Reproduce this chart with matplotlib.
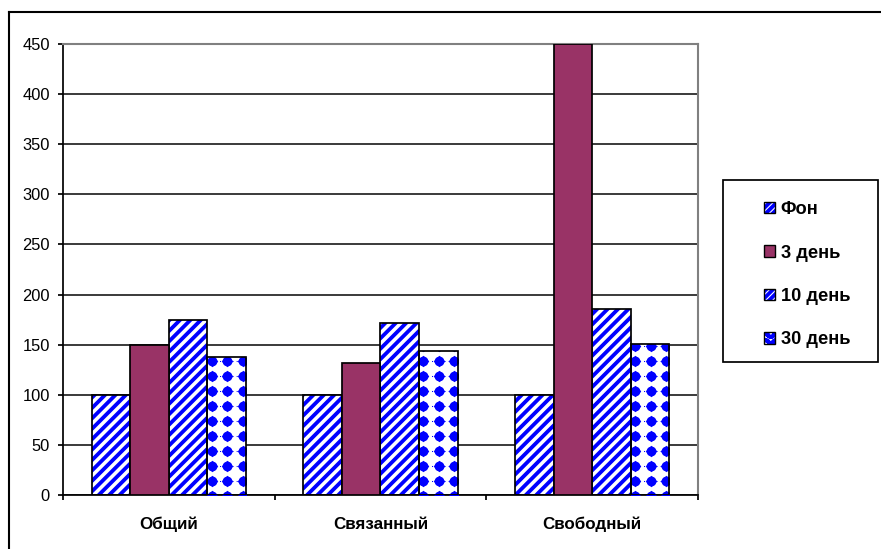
import numpy as np
import matplotlib
matplotlib.use("Agg")
import matplotlib.pyplot as plt
from matplotlib.patches import Rectangle, Patch
from matplotlib.lines import Line2D
from matplotlib.legend_handler import HandlerTuple

# ---- data ----
categories = ["Общий", "Связанный", "Свободный"]
series_names = ["Фон", "3 день", "10 день", "30 день"]
fon = [100, 100, 100]
day3 = [150, 132, 450]
day10 = [175, 172, 186]
day30 = [138, 144, 151]
y_ticks = [0, 50, 100, 150, 200, 250, 300, 350, 400, 450]

DPI = 125
W, H = 881, 549
BLUE = "#0000FF"
PLUM = "#993366"

plt.rcParams["font.family"] = ["Liberation Sans", "DejaVu Sans"]
plt.rcParams["hatch.linewidth"] = 2.2

fig = plt.figure(figsize=(W / DPI, H / DPI), dpi=DPI)
ax = fig.add_axes([63 / W, (H - 495) / H, (698 - 63) / W, (495 - 44) / H])

x = np.arange(len(categories))
bw = 0.182
offsets = np.array([-1.5, -0.5, 0.5, 1.5]) * bw
STRIPES = "////"


def striped(xpos, vals):
    ax.bar(xpos, vals, bw, color="white", edgecolor=BLUE, hatch=STRIPES, linewidth=0, zorder=2)
    ax.bar(xpos, vals, bw, fill=False, edgecolor="black", linewidth=1.0, zorder=4)


# Фон and 10 день: blue diagonal stripes
striped(x + offsets[0], fon)
striped(x + offsets[2], day10)

# 3 день: solid plum
ax.bar(x + offsets[1], day3, bw, color=PLUM, edgecolor="black", linewidth=1.0, zorder=4)

# 30 день: blue dots on a fixed grid, clipped to each bar
bars30 = ax.bar(x + offsets[3], day30, bw, color="white", edgecolor="none", linewidth=0, zorder=2)
xstep = 15.5 / 211.7
for rect in bars30:
    x0 = rect.get_x()
    h = rect.get_height()
    gx = np.arange(x0 + 0.28 * xstep, x0 + bw + xstep, xstep)
    gy = np.arange(-1.4, h + 15, 15)
    XX, YY = np.meshgrid(gx, gy)
    for mk, sz in (("o", 32), ("D", 22)):
        sc = ax.scatter(XX.ravel(), YY.ravel(), marker=mk, s=sz, color=BLUE, linewidths=0, zorder=3)
        sc.set_clip_path(rect)
    for yy in gy:
        ln, = ax.plot([x0, x0 + bw], [yy, yy], color=BLUE, lw=0.6, ls=(0, (1, 3)), zorder=3)
        ln.set_clip_path(rect)
ax.bar(x + offsets[3], day30, bw, fill=False, edgecolor="black", linewidth=1.0, zorder=4)

# ---- axes styling ----
ax.set_xlim(-0.5, len(categories) - 0.5)
ax.set_ylim(0, 450)
ax.set_yticks(y_ticks)
ax.set_yticklabels([str(v) for v in y_ticks])
ax.yaxis.grid(True, color="#222222", linewidth=1.0)
ax.set_axisbelow(True)

ax.set_xticks(np.arange(len(categories) + 1) - 0.5)
ax.set_xticklabels([])
ax.set_xticks(x, minor=True)
ax.set_xticklabels(categories, minor=True, fontweight="bold", fontsize=9.8)
ax.tick_params(axis="x", which="major", length=3, width=1, direction="out")
ax.tick_params(axis="x", which="minor", length=0, pad=12.5)
ax.tick_params(axis="y", length=3, width=1, direction="out", pad=4.5, labelsize=9.5)

for side in ("left", "bottom"):
    ax.spines[side].set_color("black")
    ax.spines[side].set_linewidth(1.0)
for side in ("top", "right"):
    ax.spines[side].set_color("#808080")
    ax.spines[side].set_linewidth(1.2)


# ---- legend ----
def stripe_handle():
    return (Patch(facecolor="white", edgecolor=BLUE, hatch="//////", linewidth=0),
            Patch(fill=False, edgecolor="black", linewidth=0.8))


handles = [
    stripe_handle(),
    Patch(facecolor=PLUM, edgecolor="black", linewidth=0.8),
    stripe_handle(),
    (Patch(facecolor="white", edgecolor=BLUE, hatch="OO", linewidth=0),
     Patch(fill=False, edgecolor="black", linewidth=0.8)),
]
fig.add_artist(Rectangle((723 / W, 1 - 362 / H), (878 - 723) / W, (362 - 180) / H,
                         transform=fig.transFigure, fill=False, edgecolor="black", linewidth=1.0))
leg = fig.legend(handles, series_names, loc="upper left",
                 bbox_to_anchor=(755 / W, 1 - 192 / H), bbox_transform=fig.transFigure,
                 frameon=False, prop={"weight": "bold", "size": 10.5},
                 handlelength=0.6, handleheight=0.6, handletextpad=0.3,
                 labelspacing=1.45, borderpad=0,
                 handler_map={tuple: HandlerTuple(ndivide=1)})

# ---- outer border (runs past the right and bottom edges) ----
fig.add_artist(Line2D([9 / W, 9 / W], [1 - 12 / H, -0.1], transform=fig.transFigure,
                      color="black", linewidth=1.2))
fig.add_artist(Line2D([9 / W, 1.1], [1 - 12 / H, 1 - 12 / H], transform=fig.transFigure,
                      color="black", linewidth=1.2))

fig.savefig("out.png", dpi=DPI)
